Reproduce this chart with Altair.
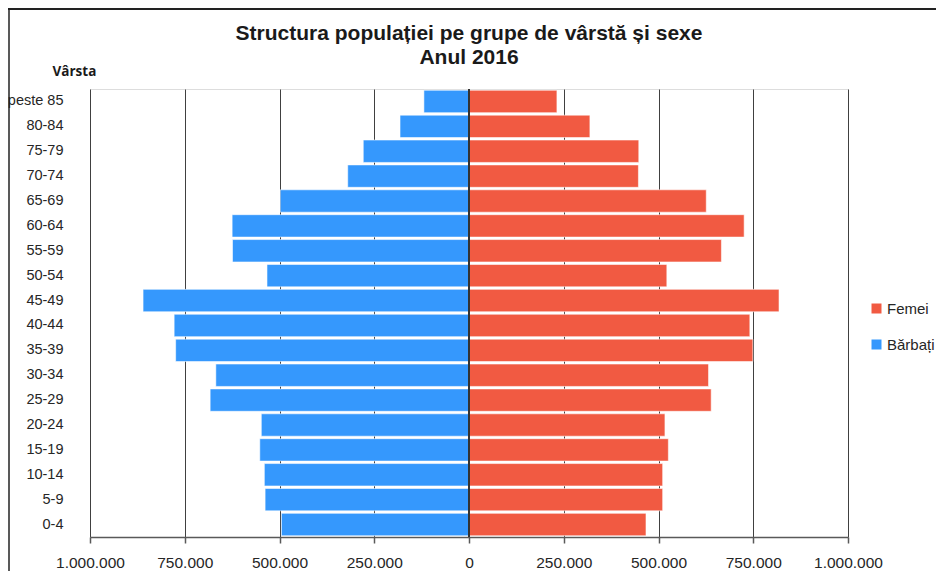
import altair as alt
import pandas as pd

age_groups = ["peste 85", "80-84", "75-79", "70-74", "65-69", "60-64", "55-59",
              "50-54", "45-49", "40-44", "35-39", "30-34", "25-29", "20-24",
              "15-19", "10-14", "5-9", "0-4"]
barbati = [119000, 182000, 279000, 320000, 498000, 625000, 624000, 533000, 860000,
           778000, 774000, 668000, 683000, 548000, 552000, 540000, 538000, 495000]
femei = [232000, 319000, 448000, 447000, 626000, 726000, 666000, 522000, 818000,
         741000, 749000, 632000, 639000, 517000, 526000, 511000, 511000, 467000]
x_ticks = [-1000000, -750000, -500000, -250000, 0, 250000, 500000, 750000, 1000000]
series = ["Femei", "Bărbați"]
colors = ["#f15a42", "#3598fd"]

rows = []
for g, m, f in zip(age_groups, barbati, femei):
    rows.append({"Grupa": g, "Sex": "Bărbați", "Populatie": -m})
    rows.append({"Grupa": g, "Sex": "Femei", "Populatie": f})
df = pd.DataFrame(rows)

bars = alt.Chart(df).mark_bar(stroke="white", strokeWidth=0.8, strokeOpacity=0.7).encode(
    x=alt.X(
        "Populatie:Q",
        scale=alt.Scale(domain=[-1000000, 1000000], nice=False),
        axis=alt.Axis(
            values=x_ticks,
            labelExpr="replace(format(abs(datum.value), ','), regexp(',', 'g'), '.')",
            title=None, grid=True, gridColor="#404040", gridWidth=1,
            domainColor="#595959", domainWidth=1.5, tickColor="#595959",
            tickSize=6, tickWidth=1.5, labelFont="Liberation Sans", labelFontSize=15.5,
            labelColor="#262626", labelPadding=12, labelFlush=False, labelOverlap=False,
        ),
    ),
    y=alt.Y(
        "Grupa:N", sort=age_groups,
        scale=alt.Scale(paddingInner=0.1, paddingOuter=0.05),
        axis=alt.Axis(
            title="Vârsta", titleAngle=0, titleAlign="left", titleBaseline="middle",
            titleX=-38, titleY=-18, titleFont="Open Sans", titleFontWeight="bold",
            titleFontSize=13.5, titleColor="#1a1a1a",
            domain=False, ticks=False, grid=False,
            labelFont="Liberation Sans", labelFontSize=14.5, labelColor="#262626",
            labelPadding=27,
        ),
    ),
    color=alt.Color(
        "Sex:N",
        scale=alt.Scale(domain=series, range=colors),
        legend=alt.Legend(
            title=None, orient="none", legendX=779, legendY=212,
            symbolType="square", symbolSize=100, symbolStrokeWidth=0,
            labelFont="Liberation Sans", labelFontSize=15, labelColor="#262626",
            rowPadding=20, labelOffset=3, padding=0,
        ),
    ),
)

zero = alt.Chart(pd.DataFrame({"v": [0]})).mark_rule(color="#333333", strokeWidth=2).encode(
    x="v:Q"
)

deco = pd.DataFrame({"a": [0]})
top_border = alt.Chart(deco).mark_rule(color="#222222", strokeWidth=2).encode(
    x=alt.value(-82), x2=alt.value(846), y=alt.value(-80)
)
left_border = alt.Chart(deco).mark_rule(color="#222222", strokeWidth=1.5).encode(
    x=alt.value(-81), y=alt.value(-81), y2=alt.value(482)
)

chart = alt.layer(bars, zero, top_border, left_border).properties(
    width=758,
    height=448,
    padding={"left": 82, "top": 81, "right": 88, "bottom": 34},
    autosize=alt.AutoSizeParams(type="none"),
    title=alt.TitleParams(
        text=["Structura populației pe grupe de vârstă și sexe", "Anul 2016"],
        font="Liberation Sans", fontSize=21, fontWeight="bold", color="#1a1a1a",
        anchor="middle", lineHeight=24, offset=0, dy=61,
    ),
).configure_view(stroke=None).configure(background="white")

chart.save("out.html", embed_options={"renderer": "svg", "actions": False})
